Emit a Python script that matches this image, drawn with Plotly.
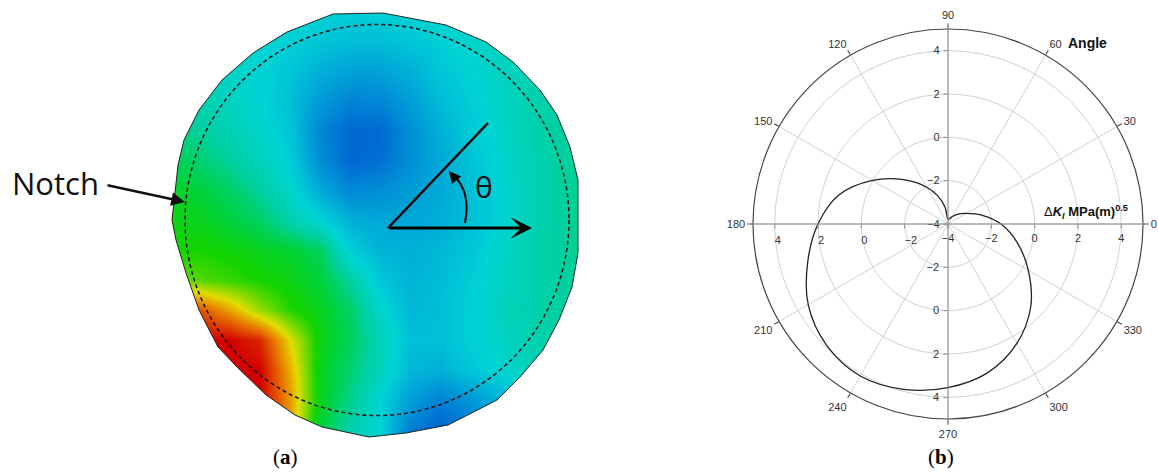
import plotly.graph_objects as go

# ---------------- Panel (a): field on the notched disk ----------------
grid_x = [170, 200, 230, 260, 290, 320, 350, 380, 410, 440, 470, 500, 530, 560, 590]
grid_y = [10, 40, 70, 100, 130, 160, 190, 220, 250, 280, 310, 340, 370, 400, 430, 460]
field = [
    [0.44, 0.43, 0.42, 0.41, 0.40, 0.40, 0.39, 0.39, 0.40, 0.41, 0.42, 0.44, 0.45, 0.47, 0.48],
    [0.46, 0.44, 0.42, 0.41, 0.39, 0.36, 0.34, 0.34, 0.36, 0.39, 0.42, 0.44, 0.46, 0.48, 0.49],
    [0.48, 0.46, 0.43, 0.40, 0.36, 0.30, 0.26, 0.26, 0.30, 0.36, 0.40, 0.44, 0.46, 0.49, 0.50],
    [0.50, 0.47, 0.44, 0.40, 0.34, 0.24, 0.17, 0.18, 0.25, 0.33, 0.38, 0.43, 0.47, 0.50, 0.51],
    [0.53, 0.50, 0.46, 0.42, 0.36, 0.18, 0.09, 0.10, 0.20, 0.30, 0.37, 0.42, 0.47, 0.50, 0.52],
    [0.58, 0.55, 0.50, 0.45, 0.38, 0.20, 0.09, 0.11, 0.20, 0.28, 0.35, 0.41, 0.46, 0.50, 0.52],
    [0.62, 0.60, 0.56, 0.50, 0.42, 0.28, 0.18, 0.20, 0.24, 0.28, 0.34, 0.40, 0.46, 0.50, 0.52],
    [0.64, 0.63, 0.60, 0.56, 0.48, 0.40, 0.30, 0.27, 0.27, 0.29, 0.34, 0.40, 0.46, 0.50, 0.52],
    [0.66, 0.66, 0.65, 0.63, 0.61, 0.57, 0.38, 0.31, 0.30, 0.32, 0.36, 0.42, 0.47, 0.50, 0.52],
    [0.72, 0.70, 0.68, 0.66, 0.64, 0.60, 0.50, 0.36, 0.31, 0.33, 0.38, 0.43, 0.47, 0.50, 0.52],
    [0.95, 0.92, 0.84, 0.74, 0.67, 0.63, 0.56, 0.42, 0.32, 0.34, 0.39, 0.44, 0.47, 0.50, 0.51],
    [1.00, 1.00, 1.00, 0.96, 0.79, 0.64, 0.57, 0.46, 0.34, 0.34, 0.39, 0.43, 0.47, 0.50, 0.51],
    [1.00, 1.00, 1.00, 1.00, 0.83, 0.63, 0.55, 0.45, 0.32, 0.30, 0.36, 0.41, 0.45, 0.48, 0.49],
    [1.00, 1.00, 1.00, 1.00, 0.85, 0.63, 0.52, 0.40, 0.25, 0.16, 0.22, 0.30, 0.38, 0.44, 0.46],
    [1.00, 1.00, 1.00, 1.00, 0.84, 0.60, 0.48, 0.40, 0.15, 0.07, 0.14, 0.25, 0.35, 0.42, 0.45],
    [1.00, 1.00, 1.00, 1.00, 0.84, 0.60, 0.48, 0.40, 0.15, 0.07, 0.14, 0.25, 0.35, 0.42, 0.45],
]
boundary_x = [333, 383, 446, 486, 513, 540, 557, 570, 578, 578, 572, 559, 543, 520, 497,
              448, 406, 369, 322, 295, 266, 237, 218, 199, 186, 176, 172, 178, 184, 199,
              222, 253, 287]
boundary_y = [14, 13, 25, 42, 62, 90, 115, 147, 180, 253, 287, 320, 350, 377, 400,
              425, 433, 437, 427, 415, 395, 367, 347, 310, 273, 240, 220, 165, 140, 110,
              80, 53, 32]
dashed_center = (377, 220)
dashed_radius = (192, 195.5)

jet_scale = [
    [0.00, "rgb(0,70,200)"],
    [0.12, "rgb(0,115,212)"],
    [0.28, "rgb(0,170,215)"],
    [0.40, "rgb(0,212,212)"],
    [0.50, "rgb(0,208,160)"],
    [0.60, "rgb(0,210,60)"],
    [0.66, "rgb(20,212,0)"],
    [0.74, "rgb(150,218,0)"],
    [0.79, "rgb(225,220,0)"],
    [0.88, "rgb(232,120,0)"],
    [1.00, "rgb(210,0,0)"],
]

# ---------------- Panel (b): polar plot of Delta K_I ----------------
theta_deg = [0, 15, 30, 45, 60, 75, 90, 100, 110, 120, 135, 150, 165, 180, 195, 210,
             225, 240, 255, 270, 285, 300, 315, 330, 345, 360]
delta_k = [-1.55, -2.4, -3.02, -3.35, -3.6, -3.75, -3.78, -3.2, -2.62, -2.04, -1.11, 0.02,
           1.2, 2.0, 2.7, 3.45, 3.92, 4.1, 3.9, 3.55, 3.1, 2.36, 1.4, 0.28, -0.69, -1.55]
angle_ticks = [0, 30, 60, 90, 120, 150, 180, 210, 240, 270, 300, 330]
radial_ticks = [-4, -2, 0, 2, 4]
radial_ticks_nocenter = [-2, 0, 2, 4]
radial_range = [-4, 5]

fig = go.Figure()

fig.add_trace(go.Heatmap(
    x=grid_x, y=grid_y, z=field, zmin=0, zmax=1, zsmooth="best",
    colorscale=jet_scale, showscale=False, hoverinfo="skip",
    xaxis="x", yaxis="y"))

# Mask outside the disk boundary
outer = "M150,-10 L600,-10 L600,480 L150,480 Z "
poly = "M" + " L".join(f"{x},{y}" for x, y in zip(boundary_x, boundary_y)) + " Z"
fig.add_shape(type="path", path=outer + poly, xref="x", yref="y",
              fillcolor="white", fillrule="evenodd", line=dict(width=0))
fig.add_shape(type="path", path=poly, xref="x", yref="y",
              line=dict(color="#222", width=1))
cx, cy = dashed_center
rx, ry = dashed_radius
fig.add_shape(type="circle", xref="x", yref="y", x0=cx - rx, x1=cx + rx,
              y0=cy - ry, y1=cy + ry, line=dict(color="#111", width=1.5, dash="4px,3px"))

# angle sketch
fig.add_shape(type="line", xref="x", yref="y", x0=388, y0=228, x1=488, y1=123,
              line=dict(color="black", width=2.5))
fig.add_shape(type="path", xref="x", yref="y", path="M 465 223 Q 471 192 454 176",
              line=dict(color="black", width=2))

polar_dom_x = [753 / 1158, 1143 / 1158]
polar_dom_y = [53 / 472, 443 / 472]

fig.add_trace(go.Scatterpolar(
    r=delta_k, theta=theta_deg, mode="lines", subplot="polar",
    line=dict(color="#222", width=1.3, shape="spline", smoothing=1.0), hoverinfo="skip"))
for sp in ["polar2", "polar3", "polar4"]:
    fig.add_trace(go.Scatterpolar(r=[None], theta=[None], mode="lines", subplot=sp,
                                  hoverinfo="skip"))

tickfont = dict(family="Liberation Sans, Arial", size=11, color="#333")


def radial(angle, side, grid, tickvals, tickangle):
    return dict(range=radial_range, tickvals=tickvals, angle=angle, side=side,
                showline=True, linecolor="#8a8a8a", linewidth=1, ticks="outside",
                ticklen=4, tickcolor="#8a8a8a", tickfont=tickfont, showgrid=grid,
                gridcolor="#d2d2d2", gridwidth=1, tickangle=tickangle)


hidden_ang = dict(visible=False, showgrid=False, showline=False, ticks="",
                  showticklabels=False, direction="counterclockwise", rotation=0)

fig.update_layout(
    width=1158, height=472, margin=dict(l=0, r=0, t=0, b=0),
    paper_bgcolor="white", plot_bgcolor="white", showlegend=False,
    xaxis=dict(domain=[0, 600 / 1158], range=[0, 600], visible=False, fixedrange=True),
    yaxis=dict(domain=[0, 1], range=[472, 0], visible=False, fixedrange=True),
    polar=dict(
        domain=dict(x=polar_dom_x, y=polar_dom_y), bgcolor="white",
        radialaxis=radial(0, "clockwise", True, radial_ticks, 0),
        angularaxis=dict(tickvals=angle_ticks, ticktext=[str(a) for a in angle_ticks],
                         direction="counterclockwise", rotation=0, showline=True,
                         linecolor="#444", linewidth=1.2, showgrid=True,
                         gridcolor="#d2d2d2", ticks="outside", ticklen=5,
                         tickcolor="#444", tickfont=tickfont)),
    polar2=dict(domain=dict(x=polar_dom_x, y=polar_dom_y), bgcolor="rgba(0,0,0,0)",
                radialaxis=radial(90, "counterclockwise", False, radial_ticks, 90),
                angularaxis=hidden_ang),
    polar3=dict(domain=dict(x=polar_dom_x, y=polar_dom_y), bgcolor="rgba(0,0,0,0)",
                radialaxis=radial(180, "counterclockwise", False, radial_ticks_nocenter, 180),
                angularaxis=hidden_ang),
    polar4=dict(domain=dict(x=polar_dom_x, y=polar_dom_y), bgcolor="rgba(0,0,0,0)",
                radialaxis=radial(270, "clockwise", False, radial_ticks_nocenter, -90),
                angularaxis=hidden_ang),
)


def ptxt(x, y, text, font):
    return dict(x=x / 1158, y=(472 - y) / 472, xref="paper", yref="paper",
                xanchor="center", yanchor="middle", text=text, showarrow=False, font=font)


ann = []
ann.append(dict(x=55, y=183, xref="x", yref="y", text="Notch", showarrow=False,
                xanchor="center", yanchor="middle",
                font=dict(family="Open Sans", size=31, color="#111")))
ann.append(dict(x=185, y=202, ax=106, ay=185, xref="x", yref="y", axref="x", ayref="y",
                text="", showarrow=True, arrowhead=2, arrowsize=1.1, arrowwidth=2.5,
                arrowcolor="#111"))
ann.append(dict(x=532, y=228, ax=388, ay=228, xref="x", yref="y", axref="x", ayref="y",
                text="", showarrow=True, arrowhead=3, arrowsize=1.2, arrowwidth=3,
                arrowcolor="black"))
ann.append(dict(x=449, y=171, ax=457, ay=181, xref="x", yref="y", axref="x", ayref="y",
                text="", showarrow=True, arrowhead=2, arrowsize=1.2, arrowwidth=2,
                arrowcolor="black"))
ann.append(dict(x=484, y=186, xref="x", yref="y", text="θ", showarrow=False,
                xanchor="center", yanchor="middle",
                font=dict(family="Open Sans", size=30, color="#111")))
ann.append(ptxt(285, 457, "(<b>a</b>)",
                dict(family="Liberation Serif", size=21, color="black")))
ann.append(ptxt(941, 457, "(<b>b</b>)",
                dict(family="Liberation Serif", size=21, color="black")))
ann.append(ptxt(1087, 43, "<b>Angle</b>",
                dict(family="Liberation Sans, Arial", size=14, color="#111")))
ann.append(ptxt(1086, 212, "Δ<b><i>K</i><sub><i>I</i></sub> MPa(m)<sup>0.5</sup></b>",
                dict(family="Liberation Sans, Arial", size=13, color="#111")))
fig.update_layout(annotations=ann)

fig.write_html("out.html", config={"displayModeBar": False},
               post_script="document.body.style.margin='0px';")
